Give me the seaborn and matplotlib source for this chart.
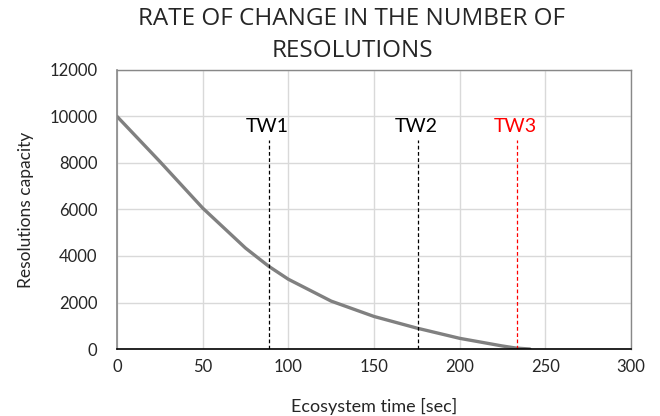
import matplotlib
matplotlib.use("Agg")
import matplotlib.pyplot as plt
import seaborn as sns
import pandas as pd

time_sec = [0, 25, 50, 75, 88.5, 100, 125, 150, 175, 200, 225, 233, 241]
capacity = [10000, 8060, 6060, 4340, 3560, 3000, 2060, 1400, 900, 460, 130, 40, 0]
tw_labels = ["TW1", "TW2", "TW3"]
tw_times = [88.5, 175.5, 233.3]
tw_colors = ["black", "black", "red"]
tw_top = 9000

sns.set_theme(style="white")
plt.rcParams['font.family'] = ['Lato', 'DejaVu Sans']

df = pd.DataFrame({"t": time_sec, "c": capacity})
fig = plt.figure(figsize=(6.6, 4.16), dpi=100)
ax = fig.add_axes([0.1773, 0.161, 0.956 - 0.1773, 0.832 - 0.161])
sns.lineplot(data=df, x="t", y="c", ax=ax, color="#808080", linewidth=2.4)

for lab, t, col in zip(tw_labels, tw_times, tw_colors):
    ax.plot([t, t], [0, tw_top], color=col, linestyle=(0, (3, 2)), linewidth=0.9)
    ax.text(t - 1, tw_top + 180, lab, color=col, ha="center", va="bottom", fontsize=14)

ax.set_xlim(0, 300)
ax.set_ylim(0, 12000)
ax.set_xticks(range(0, 301, 50))
ax.set_yticks(range(0, 12001, 2000))
ax.grid(True, color="#d9d9d9", linewidth=1)
ax.tick_params(axis="y", labelsize=12, length=0, pad=14)
ax.tick_params(axis="x", labelsize=12, length=0, pad=7)
for s in ["top", "right"]:
    ax.spines[s].set_color("#888888")
    ax.spines[s].set_linewidth(1)
ax.spines["left"].set_color("#888888")
ax.spines["left"].set_linewidth(1.2)
ax.spines["bottom"].set_color("black")
ax.spines["bottom"].set_linewidth(1.2)
ax.set_xlabel("Ecosystem time [sec]", fontsize=13, labelpad=17)
ax.set_ylabel("Resolutions capacity", fontsize=12.5, labelpad=11)
fig.text(352 / 660, 1 - 35 / 416, "RATE OF CHANGE IN THE NUMBER OF\nRESOLUTIONS",
         ha="center", va="center", fontsize=17.5, linespacing=1.4,
         family=["Open Sans", "DejaVu Sans"])

fig.savefig("out.png", dpi=100)
